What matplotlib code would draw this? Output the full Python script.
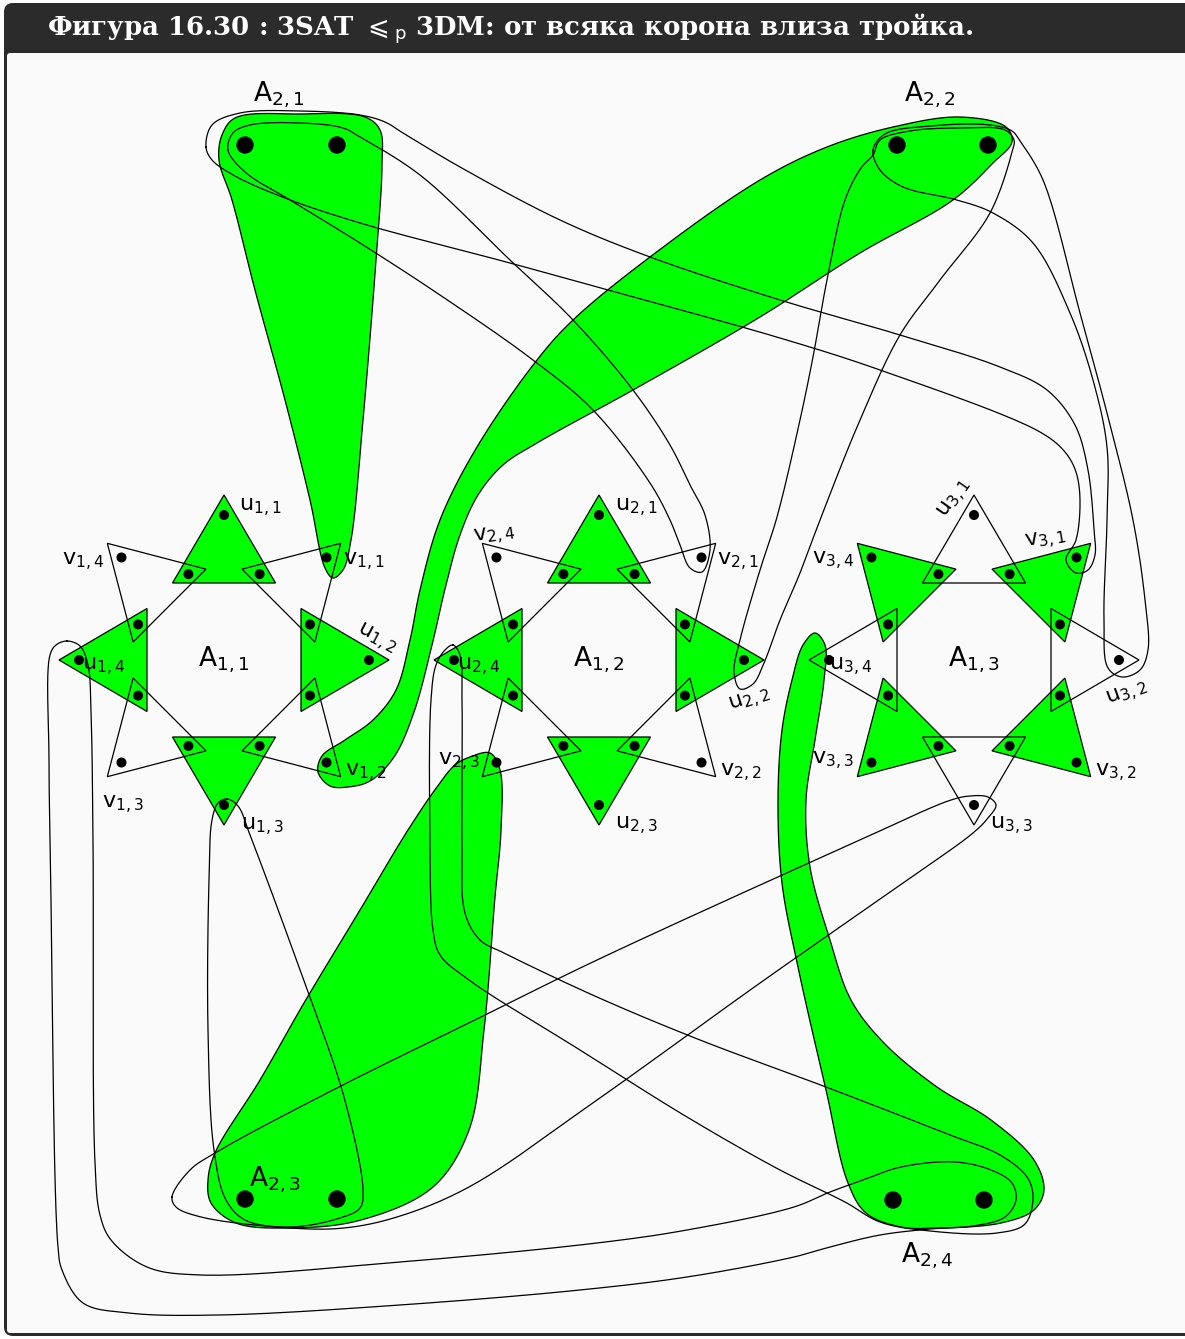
import numpy as np
import matplotlib
matplotlib.use('Agg')
import matplotlib.pyplot as plt
from matplotlib.patches import FancyBboxPatch, Polygon, Circle

plt.rcParams['mathtext.fontset'] = 'dejavusans'

W, H = 1185, 1339
GREEN = '#00ff00'

title = r'Фигура 16.30 : 3SAT ${\leqslant}_{\mathrm{p}}$ 3DM: от всяка корона влиза тройка.'

# gadget centres (pixels) and which triangles are filled
gadget_centres = [(224, 660), (599, 660), (974, 660)]
gadget_names = [r'$\mathrm{A}_{1,1}$', r'$\mathrm{A}_{1,2}$', r'$\mathrm{A}_{1,3}$']
green_u = [True, True, False]
green_v = [False, False, True]

# tip labels: (text, x, y, rotation)
tip_labels = [
    (r'$\mathrm{u}_{1,1}$', 260, 508, 0), (r'$\mathrm{v}_{1,1}$', 364, 562, 0),
    (r'$\mathrm{u}_{1,2}$', 376, 639, -28), (r'$\mathrm{v}_{1,2}$', 366, 773, 0),
    (r'$\mathrm{u}_{1,3}$', 262, 827, 0), (r'$\mathrm{v}_{1,3}$', 123, 805, 0),
    (r'$\mathrm{u}_{1,4}$', 104, 667, 0), (r'$\mathrm{v}_{1,4}$', 83, 562, 0),
    (r'$\mathrm{u}_{2,1}$', 636, 508, 0), (r'$\mathrm{v}_{2,1}$', 738, 562, 0),
    (r'$\mathrm{u}_{2,2}$', 750, 701, 18), (r'$\mathrm{v}_{2,2}$', 741, 773, 0),
    (r'$\mathrm{u}_{2,3}$', 636, 826, 0), (r'$\mathrm{v}_{2,3}$', 459, 762, 0),
    (r'$\mathrm{u}_{2,4}$', 479, 667, 0), (r'$\mathrm{v}_{2,4}$', 494, 536, 8),
    (r'$\mathrm{u}_{3,1}$', 955, 499, 55), (r'$\mathrm{v}_{3,1}$', 1046, 540, 10),
    (r'$\mathrm{u}_{3,2}$', 1127, 694, 20), (r'$\mathrm{v}_{3,2}$', 1116, 773, 0),
    (r'$\mathrm{u}_{3,3}$', 1011, 826, 0), (r'$\mathrm{v}_{3,3}$', 833, 761, 0),
    (r'$\mathrm{u}_{3,4}$', 851, 667, 0), (r'$\mathrm{v}_{3,4}$', 833, 561, 0),
]

# crown pairs A_2,j: two big points each, and label
pair_points = [[(245, 145), (337, 145)], [(897, 145), (988, 145)],
               [(245, 1199), (337, 1199)], [(893, 1200), (984, 1200)]]
pair_labels = [(r'$\mathrm{A}_{2,1}$', 279, 95), (r'$\mathrm{A}_{2,2}$', 930, 95),
               (r'$\mathrm{A}_{2,3}$', 275, 1180), (r'$\mathrm{A}_{2,4}$', 927, 1256)]

# green triples (outline way-points)
blob_21 = [(222, 135), (235, 118), (300, 114), (365, 117), (380, 130), (382, 165), (376, 260),
           (363, 420), (351, 540), (343, 570), (333, 578), (325, 568), (310, 500), (285, 400),
           (255, 290), (232, 200), (219, 160)]
blob_22 = [(330, 786), (318, 772), (322, 756), (345, 740), (373, 720), (396, 690), (410, 640),
           (420, 590), (440, 520), (477, 447), (537, 360), (573, 320), (650, 257), (760, 180),
           (827, 147), (893, 127), (960, 117), (1006, 127), (1012, 142), (993, 163), (953, 200),
           (860, 253), (760, 317), (633, 390), (537, 443), (503, 465), (478, 495), (460, 535),
           (446, 585), (432, 645), (414, 712), (394, 757), (370, 781), (348, 787)]
blob_23 = [(470, 757), (490, 753), (500, 770), (501, 830), (495, 897), (484, 1030), (469, 1130),
           (433, 1187), (361, 1220), (290, 1228), (236, 1223), (211, 1203), (208, 1180),
           (215, 1153), (260, 1080), (304, 1003), (360, 910), (408, 830), (437, 787), (455, 765)]
blob_24 = [(815, 633), (825, 645), (824, 680), (815, 740), (806, 800), (810, 867), (830, 940),
           (851, 1000), (884, 1043), (937, 1087), (991, 1120), (1034, 1160), (1044, 1190),
           (1034, 1210), (1001, 1223), (937, 1228), (901, 1227), (866, 1213), (848, 1183),
           (826, 1090), (798, 967), (782, 883), (778, 800), (782, 730), (792, 680), (803, 645)]

# plain triples (outline way-points)
loop_v31 = [(206, 147), (212, 125), (240, 113), (300, 111), (360, 115), (385, 122), (403, 133),
            (460, 167), (560, 220), (650, 257), (780, 300), (900, 335), (1000, 367), (1047, 390),
            (1075, 425), (1088, 470), (1094, 530), (1095, 555), (1088, 570), (1076, 573),
            (1066, 560), (1076, 540), (1080, 500), (1076, 472), (1065, 452), (1040, 432),
            (880, 370), (780, 338), (608, 290), (510, 263), (360, 223), (285, 198), (235, 176),
            (212, 160)]
loop_v21 = [(228, 150), (233, 133), (250, 125), (300, 123), (343, 128), (360, 137), (420, 175),
            (510, 260), (573, 320), (633, 390), (670, 445), (690, 485), (705, 515), (710, 550),
            (702, 572), (690, 568), (680, 545), (670, 520), (650, 483), (593, 410), (533, 360),
            (440, 295), (360, 243), (290, 200), (245, 172)]
loop_u22 = [(873, 155), (880, 140), (910, 131), (960, 128), (1005, 130), (1014, 140), (1012, 152),
            (990, 213), (940, 280), (900, 335), (860, 420), (820, 520), (800, 573), (780, 620),
            (764, 663), (753, 684), (740, 689), (734, 672), (740, 640), (760, 570), (777, 517),
            (800, 420), (813, 357), (827, 280), (845, 200), (861, 168)]
loop_u32 = [(873, 150), (885, 134), (930, 126), (990, 125), (1012, 131), (1020, 141), (1043, 180),
            (1080, 313), (1107, 413), (1133, 520), (1145, 600), (1148, 650), (1140, 670),
            (1122, 677), (1108, 668), (1104, 620), (1107, 520), (1107, 447), (1093, 380),
            (1070, 313), (1033, 243), (993, 213), (957, 200), (903, 187), (880, 170)]
loop_u13 = [(227, 799), (238, 806), (250, 835), (300, 970), (344, 1097), (363, 1190), (360, 1208),
            (340, 1218), (290, 1227), (245, 1220), (226, 1200), (214, 1150), (208, 1030),
            (209, 880), (212, 820), (218, 803)]
loop_u33 = [(172, 1197), (190, 1170), (215, 1153), (333, 1090), (479, 1018), (597, 960), (860, 840),
            (951, 800), (970, 796), (988, 797), (996, 805), (988, 818), (973, 833), (900, 885),
            (760, 983), (597, 1100), (469, 1187), (397, 1217), (344, 1228), (290, 1228),
            (201, 1217), (176, 1207)]
loop_u14 = [(67, 641), (80, 646), (88, 665), (91, 713), (93, 840), (95, 1163), (100, 1215),
            (111, 1240), (147, 1267), (201, 1275), (400, 1262), (597, 1243), (687, 1230),
            (794, 1207), (830, 1192), (863, 1180), (901, 1167), (955, 1162), (991, 1170),
            (1012, 1183), (1016, 1200), (1005, 1217), (973, 1226), (930, 1229), (880, 1235),
            (830, 1247), (794, 1257), (687, 1277), (580, 1290), (400, 1305), (219, 1315),
            (129, 1313), (83, 1303), (62, 1270), (58, 1247), (51, 900), (49, 760), (50, 655),
            (56, 645)]
loop_u24 = [(453, 645), (460, 655), (462, 700), (462, 840), (465, 913), (480, 940), (504, 953),
            (597, 997), (700, 1040), (826, 1087), (950, 1135), (1000, 1155), (1027, 1177),
            (1033, 1197), (1025, 1224), (997, 1233), (930, 1231), (880, 1222), (845, 1202),
            (780, 1170), (687, 1117), (580, 1050), (469, 980), (440, 955), (433, 930),
            (430, 840), (431, 700), (436, 665), (445, 650)]

green_triples = [blob_21, blob_22, blob_23, blob_24]
plain_triples = [loop_v31, loop_v21, loop_u22, loop_u32, loop_u13, loop_u33, loop_u14, loop_u24]


def smooth_closed(pts, n=24, alpha=0.5):
    # centripetal Catmull-Rom through the way-points
    P = np.asarray(pts, dtype=float)
    N = len(P)
    segs = []
    for i in range(N):
        p0, p1, p2, p3 = P[i - 1], P[i], P[(i + 1) % N], P[(i + 2) % N]
        t0 = 0.0
        t1 = t0 + max(np.hypot(*(p1 - p0)), 1e-6) ** alpha
        t2 = t1 + max(np.hypot(*(p2 - p1)), 1e-6) ** alpha
        t3 = t2 + max(np.hypot(*(p3 - p2)), 1e-6) ** alpha
        t = np.linspace(t1, t2, n, endpoint=False)[:, None]
        A1 = (t1 - t) / (t1 - t0) * p0 + (t - t0) / (t1 - t0) * p1
        A2 = (t2 - t) / (t2 - t1) * p1 + (t - t1) / (t2 - t1) * p2
        A3 = (t3 - t) / (t3 - t2) * p2 + (t - t2) / (t3 - t2) * p3
        B1 = (t2 - t) / (t2 - t0) * A1 + (t - t0) / (t2 - t0) * A2
        B2 = (t3 - t) / (t3 - t1) * A2 + (t - t1) / (t3 - t1) * A3
        segs.append((t2 - t) / (t2 - t1) * B1 + (t - t1) / (t2 - t1) * B2)
    out = np.vstack(segs)
    return np.vstack([out, out[:1]])


def triangle(c, ang, apex=165, base=77, half=51.5):
    c = np.asarray(c, dtype=float)
    d = np.array([np.cos(ang), -np.sin(ang)])
    nrm = np.array([-d[1], d[0]])
    return np.array([c + apex * d, c + base * d + half * nrm, c + base * d - half * nrm])


def direction(c, ang, r):
    return (c[0] + r * np.cos(ang), c[1] - r * np.sin(ang))


fig = plt.figure(figsize=(W / 100, H / 100), dpi=100)
ax = fig.add_axes([0, 0, 1, 1])
ax.set_xlim(0, W)
ax.set_ylim(H, 0)
ax.axis('off')

# frame and title bar
ax.add_patch(FancyBboxPatch((4, 3), 1210, 1333, boxstyle='round,pad=0,rounding_size=9',
                            facecolor='#2b2b2b', edgecolor='none', zorder=0))
ax.add_patch(FancyBboxPatch((7, 53), 1210, 1280, boxstyle='round,pad=0,rounding_size=3',
                            facecolor='#fafafa', edgecolor='none', zorder=0))
ax.text(47, 29, title, color='white', fontsize=18.7, fontweight='bold', family='DejaVu Serif',
        ha='left', va='center', zorder=10)

lw = 0.9
for pts in green_triples:
    xy = smooth_closed(pts)
    ax.fill(xy[:, 0], xy[:, 1], facecolor=GREEN, edgecolor='black', linewidth=lw, zorder=2)

u_angles = np.deg2rad([90, 0, 270, 180])
v_angles = np.deg2rad([45, -45, 225, 135])
for g, c in enumerate(gadget_centres):
    for angs, is_green in ((u_angles, green_u[g]), (v_angles, green_v[g])):
        for a in angs:
            if is_green:
                ax.add_patch(Polygon(triangle(c, a), closed=True, facecolor=GREEN,
                                     edgecolor='none', zorder=3))
    for a in np.concatenate([u_angles, v_angles]):
        ax.add_patch(Polygon(triangle(c, a), closed=True, facecolor='none',
                             edgecolor='black', linewidth=lw, zorder=4))
    for a in np.concatenate([u_angles, v_angles]):
        ax.add_patch(Circle(direction(c, a, 145), 4.3, color='black', zorder=6))
    for k in range(8):
        a = np.deg2rad(22.5 + 45 * k)
        ax.add_patch(Circle(direction(c, a, 93), 4.3, color='black', zorder=6))
    ax.text(c[0], c[1], gadget_names[g], fontsize=19, ha='center', va='center', zorder=7)

for pts in plain_triples:
    xy = smooth_closed(pts)
    ax.plot(xy[:, 0], xy[:, 1], color='black', linewidth=lw, zorder=5)

for pair in pair_points:
    for p in pair:
        ax.add_patch(Circle(p, 8, color='black', zorder=6))

for txt, x, y in pair_labels:
    ax.text(x, y, txt, fontsize=19, ha='center', va='center', zorder=7)

for txt, x, y, rot in tip_labels:
    ax.text(x, y, txt, fontsize=16, ha='center', va='center', rotation=rot,
            rotation_mode='anchor', zorder=7)

fig.savefig('out.png', dpi=100, facecolor='white')
